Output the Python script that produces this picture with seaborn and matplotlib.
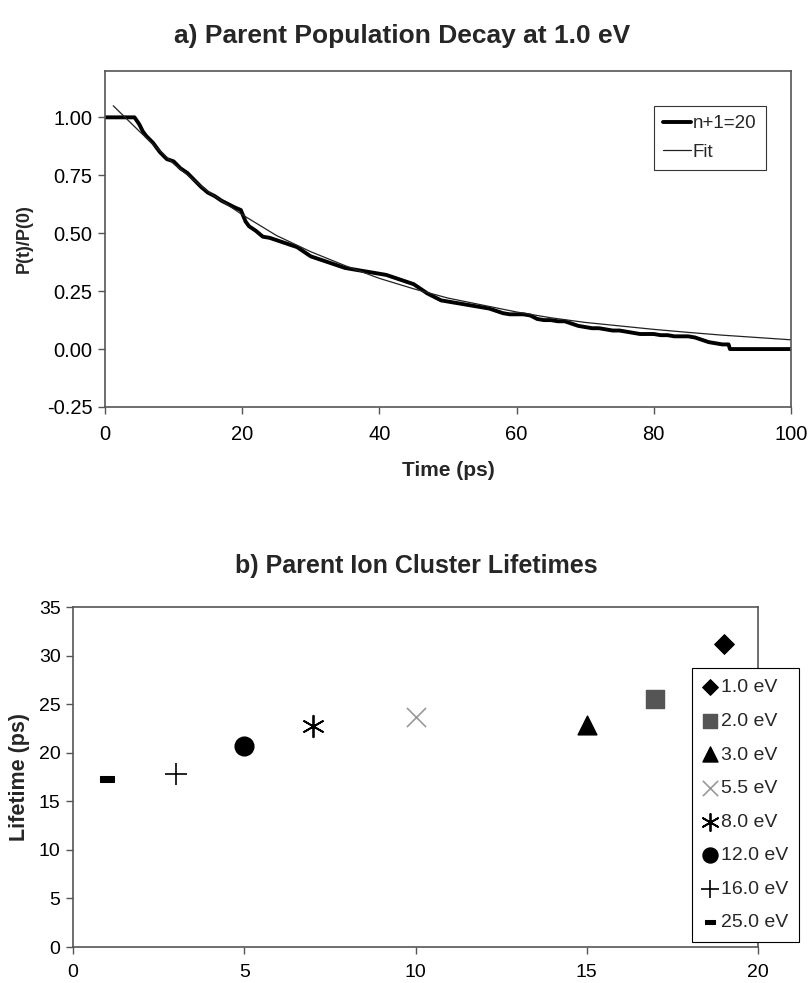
import numpy as np
import pandas as pd
import matplotlib
matplotlib.use("Agg")
import matplotlib.pyplot as plt
import seaborn as sns

# ---------------- data: panel a ----------------
decay_t = [0, 4.3, 5, 5.5, 6, 7, 8, 9, 10, 11, 12, 13, 14, 15, 16, 17, 18, 19, 19.8,
           20.5, 21, 22, 23, 24, 25, 26, 27, 28, 29, 30, 31, 32, 33, 34, 35, 36, 37,
           38, 39, 40, 41, 42, 43, 44, 45, 46, 47, 48, 49, 50, 51, 52, 53, 54, 55,
           56, 57, 58, 59, 60, 61, 62, 63, 64, 65, 66, 67, 68, 69, 70, 71, 72, 73,
           74, 75, 76, 77, 78, 79, 80, 81, 82, 83, 84, 85, 86, 87, 88, 89, 90, 90.9,
           91.1, 100]
decay_p = [1.00, 1.00, 0.97, 0.94, 0.92, 0.89, 0.85, 0.82, 0.81, 0.78, 0.76, 0.73, 0.70,
           0.675, 0.66, 0.64, 0.625, 0.61, 0.60, 0.55, 0.53, 0.51, 0.485, 0.48, 0.47, 0.46,
           0.45, 0.44, 0.42, 0.40, 0.39, 0.38, 0.37, 0.36, 0.35, 0.345, 0.34, 0.335, 0.33,
           0.325, 0.32, 0.31, 0.30, 0.29, 0.28, 0.26, 0.24, 0.225, 0.21, 0.205, 0.20,
           0.195, 0.19, 0.185, 0.18, 0.175, 0.165, 0.155, 0.15, 0.15, 0.15, 0.145, 0.13,
           0.125, 0.125, 0.12, 0.12, 0.11, 0.10, 0.095, 0.09, 0.09, 0.085, 0.08, 0.08,
           0.075, 0.07, 0.065, 0.065, 0.065, 0.06, 0.06, 0.055, 0.055, 0.055, 0.05, 0.04,
           0.03, 0.025, 0.02, 0.02, 0.00, 0.00]

fit_t = [1.2, 5, 10, 15, 20, 25, 30, 35, 40, 45, 50, 55, 60, 65, 70, 75, 80, 85, 90, 95, 100]
fit_p = [1.05, 0.94, 0.80, 0.68, 0.58, 0.49, 0.42, 0.36, 0.305, 0.26, 0.22, 0.19, 0.16,
         0.135, 0.115, 0.10, 0.085, 0.072, 0.06, 0.05, 0.04]

# ---------------- data: panel b ----------------
energies = ["1.0 eV", "2.0 eV", "3.0 eV", "5.5 eV", "8.0 eV", "12.0 eV", "16.0 eV", "25.0 eV"]
series_x = [19, 17, 15, 10, 7, 5, 3, 1]
lifetimes = [31.2, 25.5, 22.9, 23.7, 22.8, 20.7, 17.8, 17.3]

# ---------------- style ----------------
sns.set_style("white")
plt.rcParams["font.family"] = ["Liberation Sans", "DejaVu Sans"]

W, H = 809, 983
fig = plt.figure(figsize=(W / 100, H / 100), dpi=100)

def px_axes(left, top, right, bottom):
    return fig.add_axes([left / W, (H - bottom) / H, (right - left) / W, (bottom - top) / H])

spine_col = "#555555"

def style_axes(ax, size):
    for s in ax.spines.values():
        s.set_visible(True)
        s.set_color(spine_col)
        s.set_linewidth(1.2)
    ax.tick_params(direction="out", length=5, width=1, color=spine_col,
                   labelsize=size, labelcolor="black", pad=4, left=True, bottom=True)

# ---------------- panel a ----------------
ax1 = px_axes(105, 71, 791, 407)
df_a = pd.DataFrame({"t": decay_t, "p": decay_p})
df_f = pd.DataFrame({"t": fit_t, "p": fit_p})
sns.lineplot(data=df_a, x="t", y="p", ax=ax1, color="black", linewidth=2.8,
             label="n+1=20", estimator=None, sort=False)
sns.lineplot(data=df_f, x="t", y="p", ax=ax1, color="#222222", linewidth=0.9,
             label="Fit", estimator=None, sort=False)
ax1.set_xlim(0, 100)
ax1.set_ylim(-0.25, 1.2)
ax1.set_xticks([0, 20, 40, 60, 80, 100])
ax1.set_yticks([-0.25, 0, 0.25, 0.5, 0.75, 1.0])
ax1.set_yticklabels(["-0.25", "0.00", "0.25", "0.50", "0.75", "1.00"])
style_axes(ax1, 14.5)
ax1.tick_params(axis="x", pad=8)
ax1.set_xlabel("Time (ps)", fontsize=15, fontweight="bold", labelpad=12)
ax1.set_ylabel("P(t)/P(0)", fontsize=13, fontweight="bold", labelpad=10)
leg1 = ax1.legend(loc="upper right", bbox_to_anchor=(766 / W, (H - 106) / H),
                  bbox_transform=fig.transFigure, fontsize=13.5, frameon=True,
                  fancybox=False, edgecolor="black", handlelength=1.5,
                  handletextpad=0.1, borderpad=0.5, labelspacing=0.6, borderaxespad=0)
leg1.get_frame().set_linewidth(0.8)

fig.text(402 / W, 1 - 36 / H, "a) Parent Population Decay at 1.0 eV", ha="center",
         va="center", fontsize=19, fontweight="bold")

# ---------------- panel b ----------------
ax2 = px_axes(73, 607, 758, 947)
dash_marker = [(-1, -0.4), (1, -0.4), (1, 0.4), (-1, 0.4), (-1, -0.4)]
styles = {
    "1.0 eV": dict(marker="D", color="black", s=100),
    "2.0 eV": dict(marker="s", color="#555555", s=160),
    "3.0 eV": dict(marker="^", color="black", s=180),
    "5.5 eV": dict(marker="x", color="#999999", s=190, linewidth=1.2),
    "8.0 eV": dict(marker=(6, 2, 0), color="black", s=240, linewidth=1.3),
    "12.0 eV": dict(marker="o", color="black", s=180),
    "16.0 eV": dict(marker="+", color="black", s=260, linewidth=1.2),
    "25.0 eV": dict(marker=dash_marker, color="black", s=90),
}
for name, xv, yv in zip(energies, series_x, lifetimes):
    st = styles[name]
    kw = dict(x=[xv], y=[yv], ax=ax2, marker=st["marker"], color=st["color"],
              s=st["s"], label=name)
    if "linewidth" in st:
        kw["linewidth"] = st["linewidth"]
    else:
        kw["edgecolor"] = st["color"]
    sns.scatterplot(**kw)
ax2.set_xlim(0, 20)
ax2.set_ylim(0, 35)
ax2.set_xticks([0, 5, 10, 15, 20])
ax2.set_yticks([0, 5, 10, 15, 20, 25, 30, 35])
ax2.set_xlabel("")
style_axes(ax2, 14)
ax2.tick_params(axis="x", pad=7)
ax2.set_ylabel("Lifetime (ps)", fontsize=15.5, fontweight="bold", labelpad=6)
leg2 = ax2.legend(loc="lower left", bbox_to_anchor=(692 / W, (H - 942) / H),
                  bbox_transform=fig.transFigure, fontsize=14, frameon=True,
                  fancybox=False, edgecolor="black", handlelength=0.8,
                  handletextpad=0.15, borderpad=0.55, labelspacing=0.82,
                  borderaxespad=0, framealpha=1, markerscale=0.8)
leg2.get_frame().set_linewidth(0.8)

fig.text(416 / W, 1 - 566 / H, "b) Parent Ion Cluster Lifetimes", ha="center",
         va="center", fontsize=18, fontweight="bold")

fig.savefig("out.png", dpi=100, facecolor="white")
